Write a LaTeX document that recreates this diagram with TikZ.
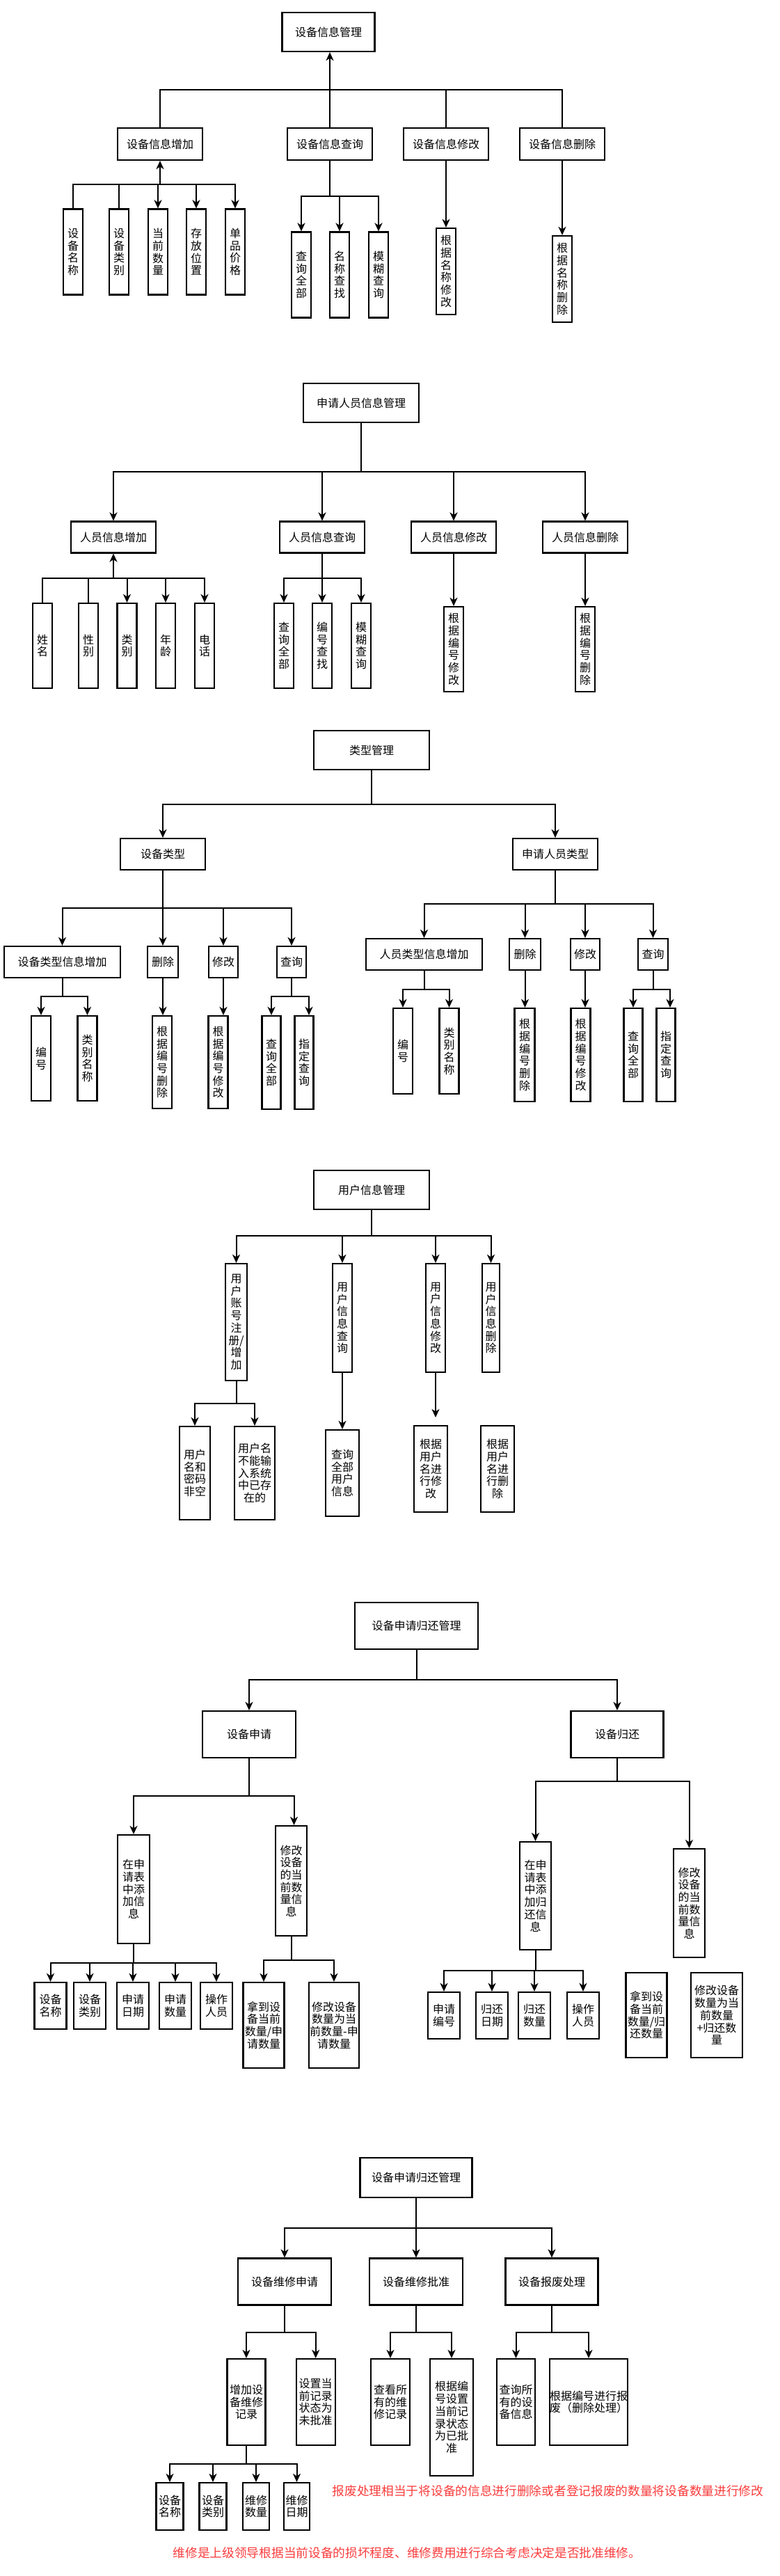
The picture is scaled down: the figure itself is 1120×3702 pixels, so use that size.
\documentclass[tikz,border=0pt]{standalone}
\usepackage{fontspec}
\newfontfamily\cjk{Noto Sans CJK SC}
\usepackage{xcolor}
\definecolor{notered}{RGB}{250,60,60}
\usetikzlibrary{arrows.meta}

\begin{document}
\begin{tikzpicture}[
		x=1pt, y=-1pt,
		>={Stealth[length=12pt, width=11pt, inset=3.5pt]},
		line width=2pt,
		box/.style={draw, rectangle, line width=2.2pt, inner sep=0pt, align=center, font=\cjk\fontsize{16}{17.7}\selectfont},
		note/.style={text=notered, inner sep=0pt, font=\cjk\fontsize{17.7}{20}\selectfont}
	]

	\fill[white] (0, 0) rectangle (1120, 3702);
	\useasboundingbox (0, 0) rectangle (1120, 3702);

	% 设备信息管理
	\node[box, minimum width=133pt, minimum height=56pt] (devmgmt) at (472, 46) {设备信息管理};
	\node[box, minimum width=122pt, minimum height=46pt] (devadd) at (230, 207) {设备信息增加};
	\node[box, minimum width=122pt, minimum height=46pt] (devqry) at (474, 207) {设备信息查询};
	\node[box, minimum width=122pt, minimum height=46pt] (devmod) at (641, 207) {设备信息修改};
	\node[box, minimum width=122pt, minimum height=46pt] (devdel) at (808, 207) {设备信息删除};
	\node[box, minimum width=28pt, minimum height=123pt] (devname) at (105, 362) {设\\备\\名\\称};
	\node[box, minimum width=28pt, minimum height=123pt] (devtype) at (171, 362) {设\\备\\类\\别};
	\node[box, minimum width=28pt, minimum height=123pt] (devcount) at (227, 362) {当\\前\\数\\量};
	\node[box, minimum width=28pt, minimum height=123pt] (devplace) at (282, 362) {存\\放\\位\\置};
	\node[box, minimum width=28pt, minimum height=123pt] (devprice) at (338, 362) {单\\品\\价\\格};
	\node[box, minimum width=28pt, minimum height=123pt] (devqall) at (433, 395) {查\\询\\全\\部};
	\node[box, minimum width=28pt, minimum height=123pt] (devqname) at (488, 395) {名\\称\\查\\找};
	\node[box, minimum width=28pt, minimum height=123pt] (devqfuzzy) at (544, 395) {模\\糊\\查\\询};
	\node[box, minimum width=28pt, minimum height=124pt] (devmodname) at (641, 390) {根\\据\\名\\称\\修\\改};
	\node[box, minimum width=28pt, minimum height=124pt] (devdelname) at (808, 401) {根\\据\\名\\称\\删\\除};
	\coordinate (devbus) at (474, 129);
	\coordinate (addbus) at (230, 265);
	\coordinate (qrybus) at (474, 282);

	\draw [->] (devbus) -- (devbus |- devmgmt.south);
	\draw (devadd.north) |- (devbus) -| (devdel.north);
	\draw (devqry.north) -- (devbus);
	\draw (devmod.north) -- (devmod.north |- devbus);
	\draw [->] (addbus) -- (devadd.south);
	\draw (devname.north) |- (addbus);
	\draw (devtype.north) -- (devtype.north |- addbus);
	\draw [->] (addbus) -| (devcount.north);
	\draw [->] (addbus) -| (devplace.north);
	\draw [->] (addbus) -| (devprice.north);
	\draw (devqry.south) -- (qrybus);
	\draw [->] (qrybus) -| (devqall.north);
	\draw [->] (qrybus) -| (devqname.north);
	\draw [->] (qrybus) -| (devqfuzzy.north);
	\draw [->] (devmod.south) -- (devmodname.north);
	\draw [->] (devdel.south) -- (devdelname.north);

	% 申请人员信息管理
	\node[box, minimum width=166pt, minimum height=56pt] (permgmt) at (519, 579) {申请人员信息管理};
	\node[box, minimum width=122pt, minimum height=45pt] (peradd) at (163, 772) {人员信息增加};
	\node[box, minimum width=122pt, minimum height=45pt] (perqry) at (463, 772) {人员信息查询};
	\node[box, minimum width=122pt, minimum height=45pt] (permod) at (652, 772) {人员信息修改};
	\node[box, minimum width=122pt, minimum height=45pt] (perdel) at (841, 772) {人员信息删除};
	\node[box, minimum width=28pt, minimum height=122pt] (pername) at (61, 928) {姓\\名};
	\node[box, minimum width=28pt, minimum height=122pt] (persex) at (127, 928) {性\\别};
	\node[box, minimum width=28pt, minimum height=122pt] (pertype) at (182.5, 928) {类\\别};
	\node[box, minimum width=28pt, minimum height=122pt] (perage) at (238, 928) {年\\龄};
	\node[box, minimum width=28pt, minimum height=122pt] (pertel) at (294, 928) {电\\话};
	\node[box, minimum width=28pt, minimum height=122pt] (perqall) at (408, 928) {查\\询\\全\\部};
	\node[box, minimum width=28pt, minimum height=122pt] (perqid) at (463, 928) {编\\号\\查\\找};
	\node[box, minimum width=28pt, minimum height=122pt] (perqfuzzy) at (519, 928) {模\\糊\\查\\询};
	\node[box, minimum width=28pt, minimum height=122pt] (permodid) at (652, 933) {根\\据\\编\\号\\修\\改};
	\node[box, minimum width=28pt, minimum height=122pt] (perdelid) at (841, 933) {根\\据\\编\\号\\删\\除};
	\coordinate (perbus) at (519, 678);
	\coordinate (peraddbus) at (163, 831);
	\coordinate (perqrybus) at (463, 831);

	\draw (permgmt.south) -- (perbus);
	\draw [->] (perbus) -| (peradd.north);
	\draw [->] (perbus) -| (perqry.north);
	\draw [->] (perbus) -| (permod.north);
	\draw [->] (perbus) -| (perdel.north);
	\draw [->] (peraddbus) -- (peradd.south);
	\draw (pername.north) |- (peraddbus);
	\draw (persex.north) -- (persex.north |- peraddbus);
	\draw [->] (peraddbus) -| (pertype.north);
	\draw [->] (peraddbus) -| (perage.north);
	\draw [->] (peraddbus) -| (pertel.north);
	\draw (perqry.south) -- (perqrybus);
	\draw [->] (perqrybus) -| (perqall.north);
	\draw [->] (perqrybus) -| (perqid.north);
	\draw [->] (perqrybus) -| (perqfuzzy.north);
	\draw [->] (permod.south) -- (permodid.north);
	\draw [->] (perdel.south) -- (perdelid.north);

	% 类型管理
	\node[box, minimum width=166pt, minimum height=56pt] (typemgmt) at (534, 1078) {类型管理};
	\node[box, minimum width=122pt, minimum height=45pt] (devtypes) at (234, 1227.5) {设备类型};
	\node[box, minimum width=122pt, minimum height=45pt] (pertypes) at (798, 1227.5) {申请人员类型};
	\node[box, minimum width=167pt, minimum height=45pt] (dtadd) at (89.5, 1382.5) {设备类型信息增加};
	\node[box, minimum width=44pt, minimum height=45pt] (dtdel) at (234, 1382.5) {删除};
	\node[box, minimum width=42pt, minimum height=45pt] (dtmod) at (321, 1382.5) {修改};
	\node[box, minimum width=42pt, minimum height=45pt] (dtqry) at (419, 1382.5) {查询};
	\node[box, minimum width=28pt, minimum height=122pt] (dtid) at (59, 1521) {编\\号};
	\node[box, minimum width=28pt, minimum height=122pt] (dtname) at (125.5, 1521) {类\\别\\名\\称};
	\node[box, minimum width=28pt, minimum height=133pt] (dtdelid) at (233, 1526.5) {根\\据\\编\\号\\删\\除};
	\node[box, minimum width=28pt, minimum height=133pt] (dtmodid) at (313.5, 1526.5) {根\\据\\编\\号\\修\\改};
	\node[box, minimum width=27pt, minimum height=134pt] (dtqall) at (390, 1527) {查\\询\\全\\部};
	\node[box, minimum width=27pt, minimum height=134pt] (dtqone) at (437, 1527) {指\\定\\查\\询};
	\node[box, minimum width=167pt, minimum height=45pt] (ptadd) at (609.5, 1371.5) {人员类型信息增加};
	\node[box, minimum width=45pt, minimum height=45pt] (ptdel) at (754.5, 1371.5) {删除};
	\node[box, minimum width=42pt, minimum height=45pt] (ptmod) at (841, 1371.5) {修改};
	\node[box, minimum width=43pt, minimum height=45pt] (ptqry) at (938.5, 1371.5) {查询};
	\node[box, minimum width=28pt, minimum height=123pt] (ptid) at (579, 1510.5) {编\\号};
	\node[box, minimum width=28pt, minimum height=123pt] (ptname) at (645.5, 1510.5) {类\\别\\名\\称};
	\node[box, minimum width=29pt, minimum height=134pt] (ptdelid) at (754, 1516) {根\\据\\编\\号\\删\\除};
	\node[box, minimum width=28pt, minimum height=134pt] (ptmodid) at (834.5, 1516) {根\\据\\编\\号\\修\\改};
	\node[box, minimum width=27pt, minimum height=134pt] (ptqall) at (910, 1516) {查\\询\\全\\部};
	\node[box, minimum width=27pt, minimum height=134pt] (ptqone) at (957, 1516) {指\\定\\查\\询};
	\coordinate (typebus) at (534, 1156);
	\coordinate (dtbus) at (234, 1305);
	\coordinate (dtaddbus) at (89.5, 1432);
	\coordinate (dtqrybus) at (419, 1432);
	\coordinate (ptbus) at (798, 1299);
	\coordinate (ptaddbus) at (609.5, 1421.5);
	\coordinate (ptqrybus) at (938.5, 1421.5);

	\draw (typemgmt.south) -- (typebus);
	\draw [->] (typebus) -| (devtypes.north);
	\draw [->] (typebus) -| (pertypes.north);
	\draw (devtypes.south) -- (dtbus);
	\draw [->] (dtbus) -| (dtadd.north);
	\draw [->] (dtbus) -- (dtdel.north);
	\draw [->] (dtbus) -| (dtmod.north);
	\draw [->] (dtbus) -| (dtqry.north);
	\draw (dtadd.south) -- (dtaddbus);
	\draw [->] (dtaddbus) -| (dtid.north);
	\draw [->] (dtaddbus) -| (dtname.north);
	\draw [->] (dtdel.south) -- (dtdel.south |- dtdelid.north);
	\draw [->] (dtmod.south) -- (dtmod.south |- dtmodid.north);
	\draw (dtqry.south) -- (dtqrybus);
	\draw [->] (dtqrybus) -| (dtqall.north);
	\draw [->] (dtqrybus) -| ([xshift=7pt]dtqone.north);
	\draw (pertypes.south) -- (ptbus);
	\draw [->] (ptbus) -| (ptadd.north);
	\draw [->] (ptbus) -| (ptdel.north);
	\draw [->] (ptbus) -| (ptmod.north);
	\draw [->] (ptbus) -| (ptqry.north);
	\draw (ptadd.south) -- (ptaddbus);
	\draw [->] (ptaddbus) -| (ptid.north);
	\draw [->] (ptaddbus) -| (ptname.north);
	\draw [->] (ptdel.south) -- (ptdel.south |- ptdelid.north);
	\draw [->] (ptmod.south) -- (ptmod.south |- ptmodid.north);
	\draw (ptqry.south) -- (ptqrybus);
	\draw [->] (ptqrybus) -| (ptqall.north);
	\draw [->] (ptqrybus) -| ([xshift=6pt]ptqone.north);

	% 用户信息管理
	\node[box, minimum width=166pt, minimum height=56pt] (usermgmt) at (534, 1710) {用户信息管理};
	\node[box, minimum width=31pt, minimum height=168pt] (userreg) at (339.5, 1900) {用\\户\\账\\号\\注\\册/\\增\\加};
	\node[box, minimum width=28pt, minimum height=156pt] (userqry) at (492, 1894) {用\\户\\信\\息\\查\\询};
	\node[box, minimum width=28pt, minimum height=156pt] (usermod) at (626, 1894) {用\\户\\信\\息\\修\\改};
	\node[box, minimum width=25pt, minimum height=156pt] (userdel) at (705.5, 1894) {用\\户\\信\\息\\删\\除};
	\node[box, minimum width=44pt, minimum height=134pt] (usernotnull) at (280, 2117) {用户\\名和\\密码\\非空};
	\node[box, minimum width=58pt, minimum height=134pt] (userunique) at (366, 2117) {用户名\\不能输\\入系统\\中已存\\在的};
	\node[box, minimum width=48pt, minimum height=124pt] (userqall) at (492, 2117) {查询\\全部\\用户\\信息};
	\node[box, minimum width=48pt, minimum height=124pt] (usermodname) at (619, 2111) {根据\\用户\\名进\\行修\\改};
	\node[box, minimum width=48pt, minimum height=124pt] (userdelname) at (715, 2111) {根据\\用户\\名进\\行删\\除};
	\coordinate (userbus) at (534, 1776);
	\coordinate (regbus) at (339.5, 2016.5);
	\coordinate (modend) at (626, 2037);

	\draw (usermgmt.south) -- (userbus);
	\draw [->] (userbus) -| (userreg.north);
	\draw [->] (userbus) -| (userqry.north);
	\draw [->] (userbus) -| (usermod.north);
	\draw [->] (userbus) -| (userdel.north);
	\draw (userreg.south) -- (regbus);
	\draw [->] (regbus) -| (usernotnull.north);
	\draw [->] (regbus) -| (userunique.north);
	\draw [->] (userqry.south) -- (userqall.north);
	\draw [->] (usermod.south) -- (modend);

	% 设备申请归还管理
	\node[box, minimum width=177pt, minimum height=67pt] (appmgmt) at (598.5, 2336.5) {设备申请归还管理};
	\node[box, minimum width=134pt, minimum height=67pt] (devapply) at (358, 2492.5) {设备申请};
	\node[box, minimum width=133pt, minimum height=67pt] (devreturn) at (887, 2492.5) {设备归还};
	\node[box, minimum width=46pt, minimum height=156pt] (applyadd) at (192, 2715) {在申\\请表\\中添\\加信\\息};
	\node[box, minimum width=45pt, minimum height=158pt] (applycount) at (418.5, 2703) {修改\\设备\\的当\\前数\\量信\\息};
	\node[box, minimum width=46pt, minimum height=67pt] (aname) at (72.5, 2882.5) {设备\\名称};
	\node[box, minimum width=46pt, minimum height=67pt] (atype) at (129, 2882.5) {设备\\类别};
	\node[box, minimum width=46pt, minimum height=67pt] (adate) at (191, 2882.5) {申请\\日期};
	\node[box, minimum width=46pt, minimum height=67pt] (anum) at (252, 2882.5) {申请\\数量};
	\node[box, minimum width=46pt, minimum height=67pt] (aop) at (311, 2882.5) {操作\\人员};
	\node[box, minimum width=59pt, minimum height=123pt] (aget) at (379, 2910.5) {拿到设\\备当前\\数量/申\\请数量};
	\node[box, minimum width=72pt, minimum height=123pt] (aset) at (480, 2910.5) {修改设备\\数量为当\\前数量-申\\请数量};
	\node[box, minimum width=45pt, minimum height=155pt] (retadd) at (769.5, 2724.5) {在申\\请表\\中添\\加归\\还信\\息};
	\node[box, minimum width=45pt, minimum height=156pt] (retcount) at (990.5, 2735) {修改\\设备\\的当\\前数\\量信\\息};
	\node[box, minimum width=46pt, minimum height=67pt] (rid) at (638, 2896.5) {申请\\编号};
	\node[box, minimum width=46pt, minimum height=67pt] (rdate) at (707, 2896.5) {归还\\日期};
	\node[box, minimum width=46pt, minimum height=67pt] (rnum) at (768, 2896.5) {归还\\数量};
	\node[box, minimum width=46pt, minimum height=67pt] (rop) at (838, 2896.5) {操作\\人员};
	\node[box, minimum width=59pt, minimum height=122pt] (rget) at (929, 2896) {拿到设\\备当前\\数量/归\\还数量};
	\node[box, minimum width=74pt, minimum height=122pt] (rset) at (1030, 2896) {修改设备\\数量为当\\前数量\\+归还数\\量};
	\coordinate (appbus) at (598.5, 2414);
	\coordinate (applybus) at (358, 2581);
	\coordinate (applyaddbus) at (192, 2821);
	\coordinate (applycountbus) at (418.5, 2816.5);
	\coordinate (returnbus) at (887, 2559.5);
	\coordinate (retaddbus) at (769.5, 2832);

	\draw (appmgmt.south) -- (appbus);
	\draw [->] (appbus) -| (devapply.north);
	\draw [->] (appbus) -| (devreturn.north);
	\draw (devapply.south) -- (applybus);
	\draw [->] (applybus) -| (applyadd.north);
	\draw [->] (applybus) -| ([xshift=4pt]applycount.north);
	\draw (applyadd.south) -- (applyaddbus);
	\draw [->] (applyaddbus) -| (aname.north);
	\draw [->] (applyaddbus) -| (atype.north);
	\draw [->] (applyaddbus) -| (adate.north);
	\draw [->] (applyaddbus) -| (anum.north);
	\draw [->] (applyaddbus) -| (aop.north);
	\draw (applycount.south) -- (applycountbus);
	\draw [->] (applycountbus) -| (aget.north);
	\draw [->] (applycountbus) -| (aset.north);
	\draw (devreturn.south) -- (returnbus);
	\draw [->] (returnbus) -| (retadd.north);
	\draw [->] (returnbus) -| (retcount.north);
	\draw (retadd.south) -- (retaddbus);
	\draw [->] (retaddbus) -| (rid.north);
	\draw [->] (retaddbus) -| (rdate.north);
	\draw [->] (retaddbus) -| (rnum.north);
	\draw [->] (retaddbus) -| (rop.north);

	% 维修与报废
	\node[box, minimum width=161pt, minimum height=57pt] (repmgmt) at (598, 3129.5) {设备申请归还管理};
	\node[box, minimum width=134pt, minimum height=67pt] (repapply) at (409, 3279) {设备维修申请};
	\node[box, minimum width=134pt, minimum height=67pt] (repapprove) at (598, 3279) {设备维修批准};
	\node[box, minimum width=133pt, minimum height=67pt] (scrap) at (793, 3279) {设备报废处理};
	\node[box, minimum width=55pt, minimum height=124pt] (repadd) at (354, 3452) {增加设\\备维修\\记录};
	\node[box, minimum width=56pt, minimum height=124pt] (repstate) at (453.7, 3452) {设置当\\前记录\\状态为\\未批准};
	\node[box, minimum width=56pt, minimum height=124pt] (replist) at (561, 3452) {查看所\\有的维\\修记录};
	\node[box, minimum width=62pt, minimum height=168pt] (repset) at (649, 3474) {根据编\\号设置\\当前记\\录状态\\为已批\\准};
	\node[box, minimum width=55pt, minimum height=124pt] (scrlist) at (741.5, 3452) {查询所\\有的设\\备信息};
	\node[box, minimum width=112pt, minimum height=124pt, align=left] (scrdel) at (846, 3452) {根据编号进行报\\废（删除处理）};
	\node[box, minimum width=39pt, minimum height=68pt] (rpname) at (244, 3602) {设备\\名称};
	\node[box, minimum width=39pt, minimum height=68pt] (rptype) at (306, 3602) {设备\\类别};
	\node[box, minimum width=38pt, minimum height=68pt] (rpnum) at (368, 3602) {维修\\数量};
	\node[box, minimum width=37pt, minimum height=68pt] (rpdate) at (426.5, 3602) {维修\\日期};
	\node[note] (scrapnote) at (787.5, 3580) {报废处理相当于将设备的信息进行删除或者登记报废的数量将设备数量进行修改};
	\node[note] (repairnote) at (585, 3669) {维修是上级领导根据当前设备的损坏程度、维修费用进行综合考虑决定是否批准维修。};
	\coordinate (repbus) at (598, 3201.5);
	\coordinate (rabus) at (409, 3352);
	\coordinate (apbus) at (598, 3352);
	\coordinate (scbus) at (793, 3352);
	\coordinate (repaddbus) at (354, 3541);

	\draw (repmgmt.south) -- (repbus);
	\draw [->] (repbus) -| (repapply.north);
	\draw [->] (repbus) -- (repapprove.north);
	\draw [->] (repbus) -| (scrap.north);
	\draw (repapply.south) -- (rabus);
	\draw [->] (rabus) -| (repadd.north);
	\draw [->] (rabus) -| (repstate.north);
	\draw (repapprove.south) -- (apbus);
	\draw [->] (apbus) -| (replist.north);
	\draw [->] (apbus) -| (repset.north);
	\draw (scrap.south) -- (scbus);
	\draw [->] (scbus) -| (scrlist.north);
	\draw [->] (scbus) -| (scrdel.north);
	\draw (repadd.south) -- (repaddbus);
	\draw [->] (repaddbus) -| (rpname.north);
	\draw [->] (repaddbus) -| (rptype.north);
	\draw [->] (repaddbus) -| (rpnum.north);
	\draw [->] (repaddbus) -| (rpdate.north);

\end{tikzpicture}
\end{document}
